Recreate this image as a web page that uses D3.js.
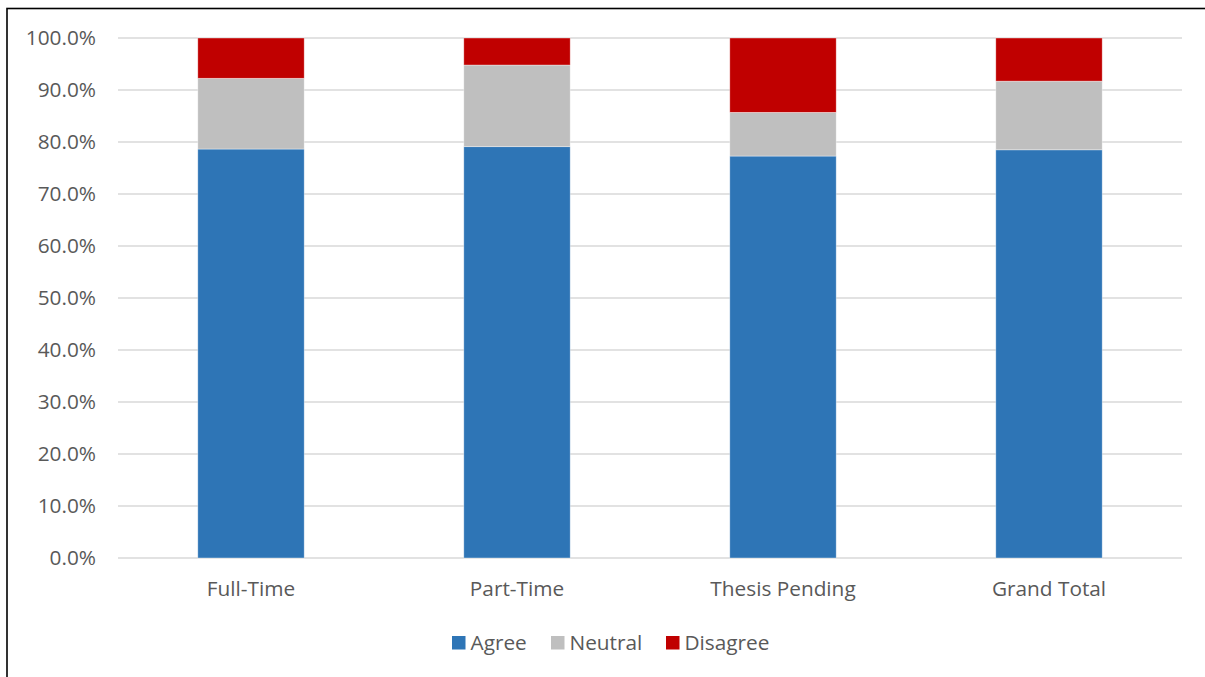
<!DOCTYPE html>
<html>
<head>
<meta charset="utf-8">
<script src="https://cdn.jsdelivr.net/npm/d3@7"></script>
<style>
  html, body { margin: 0; padding: 0; background: #fff; }
  svg { display: block; }
  text { font-family: "Open Sans", Lato, sans-serif; fill: #595959; }
</style>
</head>
<body>
<svg id="chart" width="1205" height="677"></svg>
<script>
const categories = ["Full-Time", "Part-Time", "Thesis Pending", "Grand Total"];
const seriesNames = ["Agree", "Neutral", "Disagree"];
const agree    = [78.65, 79.1, 77.3, 78.5];
const neutral  = [13.6, 15.7, 8.4, 13.2];
const disagree = [7.75, 5.2, 14.3, 8.3];
const yTicks = [0, 10, 20, 30, 40, 50, 60, 70, 80, 90, 100];
const colors = ["#2E75B6", "#BFBFBF", "#C00000"];

const svg = d3.select("#chart");
const W = 1205, H = 677;
const margin = { left: 118, right: 23, top: 38, bottom: 119 };
const plotW = W - margin.left - margin.right;
const plotH = H - margin.top - margin.bottom;
const FS = 20.8;

// outer border
svg.append("rect")
  .attr("x", 7).attr("y", 8.5)
  .attr("width", W + 20).attr("height", H + 20)
  .attr("fill", "none").attr("stroke", "#000").attr("stroke-width", 1.6);

const g = svg.append("g").attr("transform", `translate(${margin.left},${margin.top})`);

const x = d3.scaleBand().domain(categories).range([0, plotW]).paddingInner(0.6).paddingOuter(0.3);
const y = d3.scaleLinear().domain([0, 100]).range([plotH, 0]);

// gridlines
g.append("g").selectAll("line").data(yTicks).join("line")
  .attr("x1", 0).attr("x2", plotW)
  .attr("y1", d => y(d)).attr("y2", d => y(d))
  .attr("stroke", "#D9D9D9").attr("stroke-width", 1.4);

// y axis labels
const yAxis = d3.axisLeft(y).tickValues(yTicks).tickSize(0).tickPadding(22)
  .tickFormat(d => d.toFixed(1) + "%");
const ya = g.append("g").call(yAxis);
ya.select(".domain").remove();
ya.selectAll("text").attr("font-size", FS).attr("fill", "#595959")
  .style("font-family", '"Open Sans", Lato, sans-serif');

// stacked data
const rows = categories.map((c, i) => ({ cat: c, Agree: agree[i], Neutral: neutral[i], Disagree: disagree[i] }));
const stack = d3.stack().keys(seriesNames)(rows);

g.append("g").selectAll("g").data(stack).join("g")
  .attr("fill", (d, i) => colors[i])
  .selectAll("rect").data(d => d).join("rect")
  .attr("x", d => x(d.data.cat))
  .attr("width", x.bandwidth())
  .attr("y", d => y(d[1]))
  .attr("height", d => y(d[0]) - y(d[1]))
  .attr("stroke", "#fff").attr("stroke-opacity", 0.5).attr("stroke-width", 0.75);

// x axis labels
const xAxis = d3.axisBottom(x).tickSize(0).tickPadding(23);
const xa = g.append("g").attr("transform", `translate(0,${plotH})`).call(xAxis);
xa.select(".domain").remove();
xa.selectAll("text").attr("font-size", FS).attr("fill", "#595959")
  .style("font-family", '"Open Sans", Lato, sans-serif');

// legend
const legendX = [452, 551, 666];
const lg = svg.append("g");
seriesNames.forEach((s, i) => {
  lg.append("rect").attr("x", legendX[i]).attr("y", 636).attr("width", 13.5).attr("height", 13.5).attr("fill", colors[i]);
  lg.append("text").attr("x", legendX[i] + 18.5).attr("y", 649.5).attr("font-size", FS).text(s);
});
</script>
</body>
</html>
